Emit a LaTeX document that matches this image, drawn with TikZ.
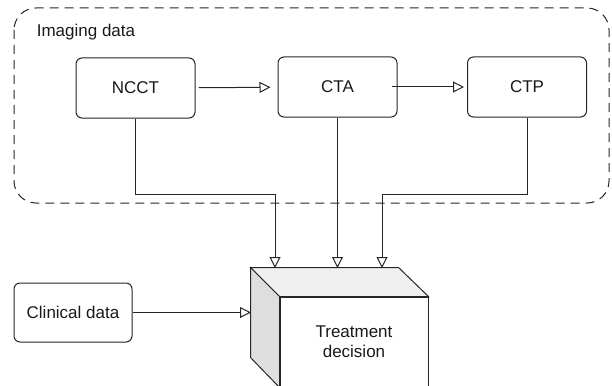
\documentclass[tikz,border=0pt]{standalone}
\usepackage{fontspec}
\setmainfont{Liberation Sans}
\usetikzlibrary{arrows.meta}

\tikzset{
    kasten/.style={draw=black!85, rounded corners=6pt, fill=white, minimum width=119pt, minimum height=60pt, text=black!90, font=\fontsize{17}{20}\selectfont},
    pfeil/.style={draw=black!85, -{Triangle[open, length=11pt, width=11pt]}},
    rahmen/.style={draw=black!85, dash pattern=on 9pt off 6pt, rounded corners=22pt}
}

\begin{document}
\begin{tikzpicture}[x=1pt, y=-1pt, line width=1pt]
        \useasboundingbox (0,0) rectangle (612,385);
        \clip (0,0) rectangle (612,385);
        \draw[rahmen] (14,8) rectangle (609,203);
        \path node[anchor=west, text=black!90, font=\fontsize{17}{20}\selectfont] (imaging) at (33,32) {Imaging data}
        node[kasten] (NCCT) at (135.5,88) {NCCT}
        node[kasten] (CTA) at (337.5,87) {CTA}
        node[kasten] (CTP) at (527,87) {CTP}
        node[kasten, minimum width=118pt, minimum height=59pt] (clinical) at (73,312.5) {Clinical data};
        % Wuerfel
        \path node[draw=black!85, fill=white, minimum width=148pt, minimum height=90pt, align=center, text=black!90, font=\fontsize{17}{20}\selectfont] (decision) at (354,342) {Treatment\\decision};
        \filldraw[draw=black!85, fill=black!6] (decision.north west) -- ++(-29,-29) -- ++(148,0) -- (decision.north east) -- cycle;
        \filldraw[draw=black!85, fill=black!13] (decision.north west) -- ++(-29,-29) -- ++(0,90) -- (decision.south west) -- cycle;
        \coordinate (in1) at (275,268);
        \coordinate (in2) at (337.5,268);
        \coordinate (in3) at (382,268);
        \coordinate (in4) at (251,312.5);
        \coordinate (knick1) at (275,194);
        \coordinate (knick3) at (382,194);
        \draw[pfeil, shorten <=3pt, shorten >=7pt] (NCCT) -- (CTA);
        \draw[pfeil, shorten <=-6pt, shorten >=3pt] (CTA) -- (CTP);
        \draw[pfeil] (NCCT.south) |- (knick1) -- (in1);
        \draw[pfeil] (CTA.south) -- (in2);
        \draw[pfeil] (CTP.south) |- (knick3) -- (in3);
        \draw[pfeil] (clinical) -- (in4);
    \end{tikzpicture}
\end{document}
